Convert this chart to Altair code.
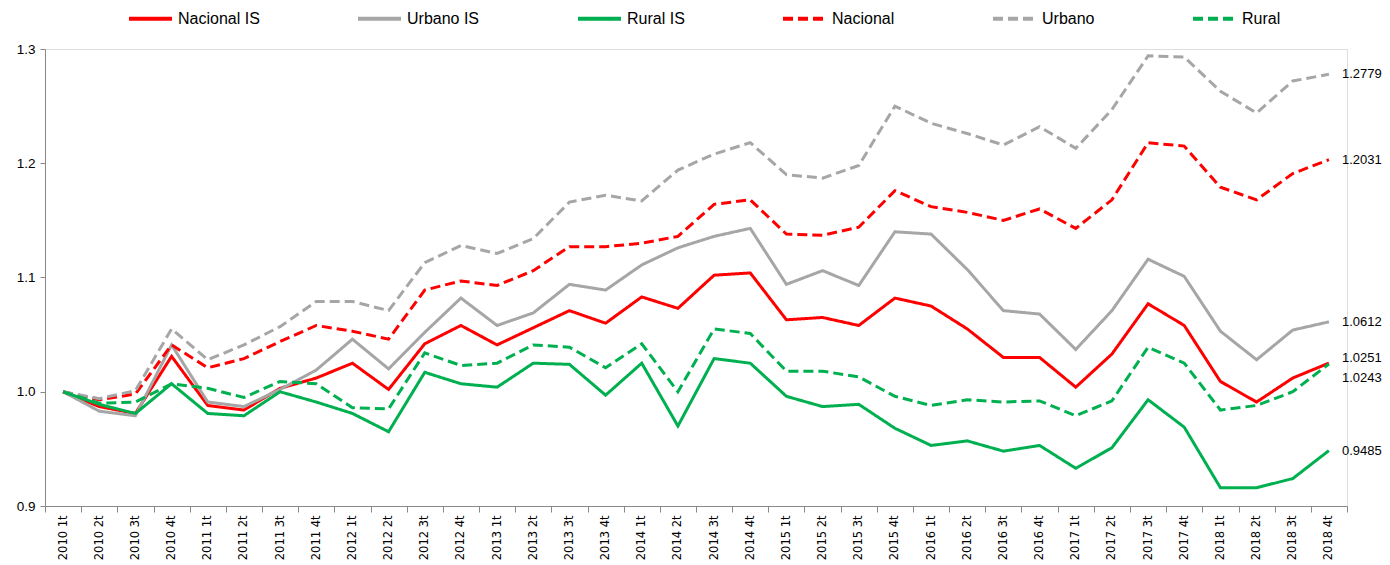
import altair as alt
import pandas as pd

quarters = [f"{y} {q}t" for y in range(2010, 2019) for q in range(1, 5)]

nacional_is = [1.000, 0.987, 0.981, 1.031, 0.988, 0.984, 1.003, 1.012, 1.025, 1.002,
               1.042, 1.058, 1.041, 1.056, 1.071, 1.060, 1.083, 1.073, 1.102, 1.104,
               1.063, 1.065, 1.058, 1.082, 1.075, 1.055, 1.030, 1.030, 1.004, 1.033,
               1.077, 1.058, 1.009, 0.991, 1.012, 1.0251]
urbano_is = [1.000, 0.983, 0.979, 1.041, 0.991, 0.987, 1.002, 1.019, 1.046, 1.020,
             1.052, 1.082, 1.058, 1.069, 1.094, 1.089, 1.111, 1.126, 1.136, 1.143,
             1.094, 1.106, 1.093, 1.140, 1.138, 1.107, 1.071, 1.068, 1.037, 1.071,
             1.116, 1.101, 1.053, 1.028, 1.054, 1.0612]
rural_is = [1.000, 0.989, 0.981, 1.007, 0.981, 0.979, 1.000, 0.991, 0.981, 0.965,
            1.017, 1.007, 1.004, 1.025, 1.024, 0.997, 1.025, 0.970, 1.029, 1.025,
            0.996, 0.987, 0.989, 0.968, 0.953, 0.957, 0.948, 0.953, 0.933, 0.951,
            0.993, 0.969, 0.916, 0.916, 0.924, 0.9485]
nacional = [1.000, 0.993, 0.998, 1.041, 1.021, 1.029, 1.044, 1.058, 1.053, 1.046,
            1.089, 1.097, 1.093, 1.106, 1.127, 1.127, 1.130, 1.136, 1.164, 1.168,
            1.138, 1.137, 1.144, 1.176, 1.162, 1.157, 1.150, 1.160, 1.143, 1.168,
            1.218, 1.215, 1.179, 1.168, 1.191, 1.2031]
urbano = [1.000, 0.994, 1.001, 1.055, 1.028, 1.041, 1.057, 1.079, 1.079, 1.071,
          1.113, 1.128, 1.121, 1.134, 1.166, 1.172, 1.167, 1.194, 1.208, 1.218,
          1.190, 1.187, 1.198, 1.250, 1.235, 1.226, 1.216, 1.232, 1.213, 1.247,
          1.294, 1.293, 1.263, 1.244, 1.272, 1.2779]
rural = [1.000, 0.990, 0.991, 1.007, 1.003, 0.995, 1.009, 1.007, 0.986, 0.985,
         1.034, 1.023, 1.025, 1.041, 1.039, 1.021, 1.042, 1.000, 1.055, 1.051,
         1.018, 1.018, 1.013, 0.996, 0.988, 0.993, 0.991, 0.992, 0.979, 0.992,
         1.039, 1.025, 0.984, 0.988, 1.000, 1.0243]

series_names = ["Nacional IS", "Urbano IS", "Rural IS", "Nacional", "Urbano", "Rural"]
series_values = [nacional_is, urbano_is, rural_is, nacional, urbano, rural]
series_colors = ["#FF0000", "#A6A6A6", "#00B050", "#FF0000", "#A6A6A6", "#00B050"]
series_dashes = [[1, 0], [1, 0], [1, 0], [10, 5], [10, 5], [10, 5]]

end_labels = ["1.2779", "1.2031", "1.0612", "1.0251", "1.0243", "0.9485"]
end_values = [1.2779, 1.2031, 1.0612, 1.0251, 1.0243, 0.9485]

rows = []
for name, vals in zip(series_names, series_values):
    for q, v in zip(quarters, vals):
        rows.append({"trimestre": q, "valor": v, "serie": name})
df = pd.DataFrame(rows)

lab = pd.DataFrame({"trimestre": [quarters[-1]] * len(end_labels),
                    "valor": end_values, "texto": end_labels})

legend = alt.Legend(
    title=None, orient="none", direction="horizontal", legendX=82, legendY=-54,
    symbolType="stroke", symbolSize=1849, symbolStrokeWidth=4,
    labelFont="Liberation Sans", labelFontSize=16, labelColor="#000000",
    labelOffset=4, columnPadding=90, padding=0, labelLimit=300,
)

x_enc = alt.X(
    "trimestre:N", sort=quarters, bandPosition=0.5,
    scale=alt.Scale(type="band", paddingInner=0, paddingOuter=0),
    axis=alt.Axis(title=None, labelAngle=-90, tickBand="extent", labelFont="DejaVu Sans",
                  labelFontSize=11.5, labelColor="#000000", domainColor="#888888",
                  tickColor="#888888", tickSize=6, labelPadding=3, grid=False),
)
y_enc = alt.Y(
    "valor:Q",
    scale=alt.Scale(domain=[0.9, 1.3], nice=False, zero=False),
    axis=alt.Axis(title=None, values=[0.9, 1.0, 1.1, 1.2, 1.3], format=".1f", grid=False,
                  labelFont="Liberation Sans", labelFontSize=13.5, labelColor="#000000",
                  domainColor="#888888", tickColor="#888888", tickSize=5, labelPadding=5),
)

lines = alt.Chart(df).mark_line(strokeWidth=3, strokeJoin="miter").encode(
    x=x_enc,
    y=y_enc,
    color=alt.Color("serie:N", scale=alt.Scale(domain=series_names, range=series_colors),
                    legend=legend),
    strokeDash=alt.StrokeDash("serie:N", scale=alt.Scale(domain=series_names, range=series_dashes),
                              legend=legend),
)


def end_text(filter_expr, dy):
    return alt.Chart(lab).mark_text(
        align="left", baseline="middle", dx=13, dy=dy,
        font="Liberation Sans", fontSize=13, color="#000000",
    ).transform_filter(filter_expr).encode(
        x=alt.X("trimestre:N", sort=quarters, bandPosition=0.5),
        y="valor:Q",
        text="texto:N",
    )


txt_main = end_text((alt.datum.texto != "1.0251") & (alt.datum.texto != "1.0243"), 0)
txt_up = end_text(alt.datum.texto == "1.0251", -5)
txt_down = end_text(alt.datum.texto == "1.0243", 14)

chart = alt.layer(lines, txt_main, txt_up, txt_down).properties(
    width=1302, height=457,
    autosize=alt.AutoSizeParams(type="none"),
    padding={"left": 37, "top": 41, "right": 35, "bottom": 56},
).configure_view(stroke=None).configure(background="white")

chart.save("out.html", embed_options={"renderer": "svg", "actions": False})
